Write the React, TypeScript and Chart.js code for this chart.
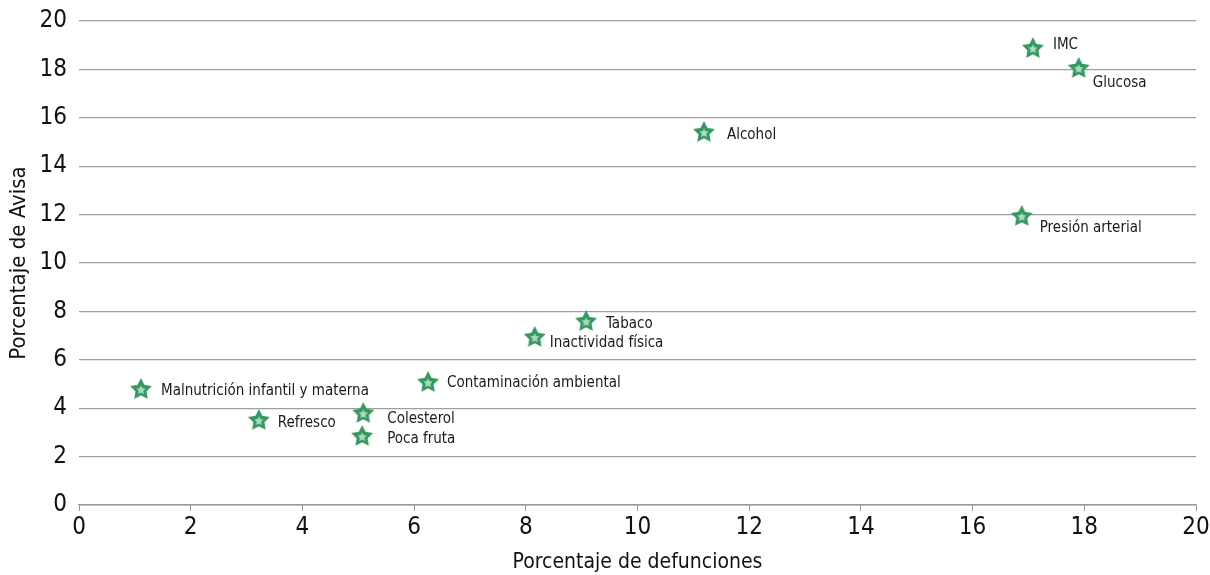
import React, { useEffect, useRef } from "react";
import { Chart, registerables } from "chart.js";

Chart.register(...registerables);

const factors = [
  "IMC",
  "Glucosa",
  "Alcohol",
  "Presión arterial",
  "Tabaco",
  "Inactividad física",
  "Contaminación ambiental",
  "Malnutrición infantil y materna",
  "Refresco",
  "Colesterol",
  "Poca fruta",
];
const deathsPct = [17.08, 17.9, 11.19, 16.88, 9.08, 8.16, 6.25, 1.11, 3.22, 5.09, 5.07];
const avisaPct = [18.88, 18.06, 15.41, 11.94, 7.6, 6.94, 5.08, 4.79, 3.51, 3.8, 2.85];

const xTicks = [0, 2, 4, 6, 8, 10, 12, 14, 16, 18, 20];
const yTicks = [0, 2, 4, 6, 8, 10, 12, 14, 16, 18, 20];
const xTitle = "Porcentaje de defunciones";
const yTitle = "Porcentaje de Avisa";

// label offsets (style: pixel offsets from the point)
const labelOffsets: [number, number][] = [
  [20, -3],
  [14, 15],
  [23, 3],
  [18, 12],
  [20, 3],
  [15, 6],
  [19, 1],
  [20, 2],
  [19, 3],
  [24, 6],
  [25, 3],
];

const FONT = "'Liberation Sans Narrow', 'DejaVu Sans Condensed', 'Roboto Condensed', 'Liberation Sans', sans-serif";

function makeStar(): HTMLCanvasElement {
  const size = 26;
  const c = document.createElement("canvas");
  c.width = size;
  c.height = size;
  const ctx = c.getContext("2d")!;
  const drawStar = (cx: number, cy: number, ro: number, ri: number, color: string) => {
    ctx.beginPath();
    for (let i = 0; i < 10; i++) {
      const r = i % 2 === 0 ? ro : ri;
      const a = -Math.PI / 2 + (i * Math.PI) / 5;
      const px = cx + r * Math.cos(a);
      const py = cy + r * Math.sin(a);
      if (i === 0) ctx.moveTo(px, py);
      else ctx.lineTo(px, py);
    }
    ctx.closePath();
    ctx.fillStyle = color;
    ctx.fill();
  };
  drawStar(13, 13.5, 11.5, 5.8, "#33995f");
  drawStar(13, 14, 4.8, 2.4, "#a9d9bf");
  return c;
}

const labelPlugin = {
  id: "pointLabels",
  afterDatasetsDraw(chart: any) {
    const ctx = chart.ctx;
    const meta = chart.getDatasetMeta(0);
    ctx.save();
    ctx.font = `15px ${FONT}`;
    ctx.fillStyle = "#1a1a1a";
    ctx.textAlign = "left";
    ctx.textBaseline = "middle";
    meta.data.forEach((el: any, i: number) => {
      const [dx, dy] = labelOffsets[i];
      ctx.fillText(factors[i], el.x + dx, el.y + dy);
    });
    ctx.restore();
  },
};

export default function App() {
  const ref = useRef<HTMLCanvasElement>(null);
  useEffect(() => {
    if (!ref.current) return;
    const star = makeStar();
    const chart = new Chart(ref.current, {
      type: "scatter",
      data: {
        datasets: [
          {
            data: deathsPct.map((x, i) => ({ x, y: avisaPct[i] })),
            pointStyle: star as any,
            pointRadius: 12,
          },
        ],
      },
      options: {
        animation: false,
        responsive: false,
        maintainAspectRatio: false,
        layout: { padding: { top: 21, right: 14, left: 0, bottom: 0 } },
        plugins: {
          legend: { display: false },
          tooltip: { enabled: false },
        },
        scales: {
          x: {
            type: "linear",
            min: 0,
            max: 20,
            afterBuildTicks: (s: any) => {
              s.ticks = xTicks.map((v) => ({ value: v }));
            },
            afterFit: (s: any) => {
              s.height = 70;
              s.paddingLeft = 0;
              s.paddingRight = 0;
            },
            grid: {
              drawOnChartArea: false,
              drawTicks: true,
              tickLength: 6,
              color: "#9a9a9a",
              lineWidth: 1,
            },
            border: { display: true, color: "#9a9a9a", width: 1.5 },
            ticks: {
              color: "#111",
              font: { family: FONT, size: 24 },
              padding: 2,
              maxRotation: 0,
            },
            title: {
              display: true,
              text: xTitle,
              color: "#111",
              font: { family: FONT, size: 21 },
              padding: { top: 0, bottom: 0 },
            },
          },
          y: {
            type: "linear",
            min: 0,
            max: 20,
            afterBuildTicks: (s: any) => {
              s.ticks = yTicks.map((v) => ({ value: v }));
            },
            afterFit: (s: any) => {
              s.width = 79;
              s.paddingTop = 0;
              s.paddingBottom = 0;
            },
            grid: {
              drawTicks: false,
              color: "#9f9f9f",
              lineWidth: 1.3,
            },
            border: { display: false },
            ticks: {
              color: "#111",
              font: { family: FONT, size: 24 },
              padding: 12,
            },
            title: {
              display: true,
              text: yTitle,
              color: "#111",
              font: { family: FONT, size: 22 },
              padding: { top: 6, bottom: 4 },
            },
          },
        },
      },
      plugins: [labelPlugin],
    });
    return () => chart.destroy();
  }, []);
  return (
    <div style={{ position: "fixed", left: 0, top: 0, width: 1210, height: 575, background: "#fff" }}>
      <canvas ref={ref} width={1210} height={575} />
    </div>
  );
}
